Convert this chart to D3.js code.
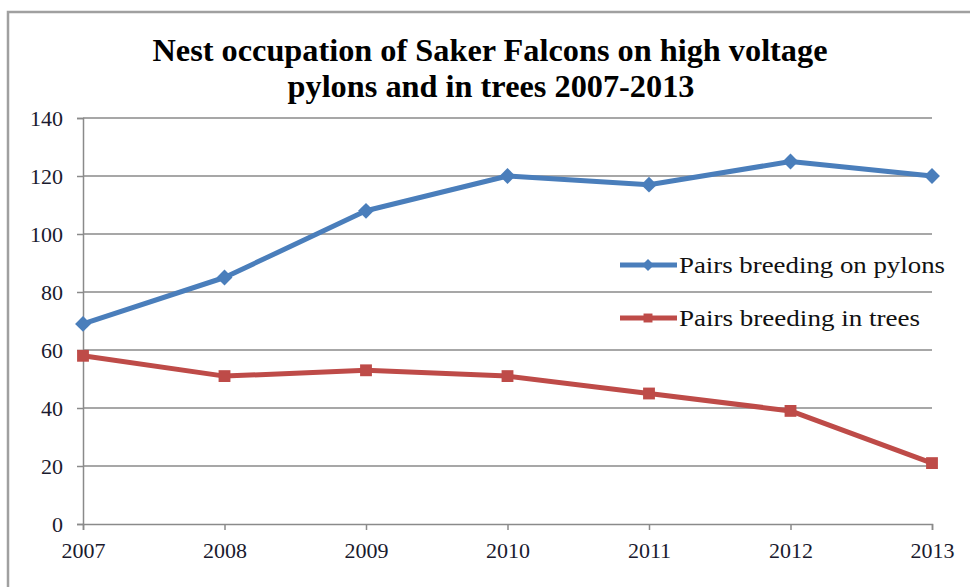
<!DOCTYPE html>
<html>
<head>
<meta charset="utf-8">
<script src="https://cdn.jsdelivr.net/npm/d3@7"></script>
<style>
  body { margin: 0; background: #fff; }
  text { font-family: "Liberation Serif", "Times New Roman", serif; }
</style>
</head>
<body>
<svg id="chart" width="970" height="587"></svg>
<script>
var years = [2007, 2008, 2009, 2010, 2011, 2012, 2013];
var pylons = [69, 85, 108, 120, 117, 125, 120];
var trees = [58, 51, 53, 51, 45, 39, 21];
var yTicks = [0, 20, 40, 60, 80, 100, 120, 140];
var seriesNames = ["Pairs breeding on pylons", "Pairs breeding in trees"];
var titleLines = ["Nest occupation  of Saker Falcons on high  voltage", "pylons and  in  trees 2007-2013"];

var svg = d3.select('#chart');

// outer frame
svg.append('rect')
	.attr('x', 8).attr('y', 12)
	.attr('width', 980).attr('height', 600)
	.attr('fill', 'none')
	.attr('stroke', '#a0a0a0')
	.attr('stroke-width', 2.5);

var plotLeft = 83, plotRight = 932, plotTop = 118, plotBottom = 524;

var x = d3.scalePoint().domain(years).range([plotLeft, plotRight]);
var y = d3.scaleLinear().domain([0, 140]).range([plotBottom, plotTop]);

// title
svg.append('text')
	.attr('x', 490).attr('y', 61)
	.attr('text-anchor', 'middle')
	.attr('font-size', 31).attr('font-weight', 'bold')
	.attr('textLength', 675).attr('lengthAdjust', 'spacingAndGlyphs')
	.text(titleLines[0]);
svg.append('text')
	.attr('x', 491).attr('y', 97)
	.attr('text-anchor', 'middle')
	.attr('font-size', 31).attr('font-weight', 'bold')
	.attr('textLength', 407).attr('lengthAdjust', 'spacingAndGlyphs')
	.text(titleLines[1]);

// gridlines
svg.append('g').selectAll('line')
	.data(yTicks.filter(function(d){ return d > 0; }))
	.enter().append('line')
	.attr('x1', plotLeft).attr('x2', plotRight)
	.attr('y1', function(d){ return y(d); })
	.attr('y2', function(d){ return y(d); })
	.attr('stroke', '#8a8a8a').attr('stroke-width', 1.5);

// y axis
var yAxis = svg.append('g')
	.attr('transform', 'translate(' + plotLeft + ',0)')
	.call(d3.axisLeft(y).tickValues(yTicks).tickSize(6).tickPadding(14));
// x axis
var xAxis = svg.append('g')
	.attr('transform', 'translate(0,' + plotBottom + ')')
	.call(d3.axisBottom(x).tickSize(6).tickPadding(10).tickFormat(d3.format('d')));

[yAxis, xAxis].forEach(function(ax)
{
	ax.select('.domain').attr('stroke', '#8a8a8a').attr('stroke-width', 1.5);
	ax.selectAll('.tick line').attr('stroke', '#8a8a8a').attr('stroke-width', 1.5);
	ax.selectAll('.tick text')
		.attr('font-family', '"Liberation Serif", serif')
		.attr('font-size', 22)
		.attr('fill', '#1a1a2e');
});
yAxis.selectAll('.tick text').attr('dy', '0.35em');
xAxis.selectAll('.tick text').attr('dy', '0.8em');

var blue = '#4a7ebb', red = '#be4b48';

var line = d3.line()
	.x(function(d, i){ return x(years[i]); })
	.y(function(d){ return y(d); });

svg.append('path').datum(pylons)
	.attr('d', line).attr('fill', 'none')
	.attr('stroke', blue).attr('stroke-width', 5).attr('stroke-linejoin', 'round');
svg.append('path').datum(trees)
	.attr('d', line).attr('fill', 'none')
	.attr('stroke', red).attr('stroke-width', 5).attr('stroke-linejoin', 'round');

var diamond = d3.symbol().type(d3.symbolDiamond2).size(160);
var square = d3.symbol().type(d3.symbolSquare).size(140);

svg.append('g').selectAll('path')
	.data(pylons).enter().append('path')
	.attr('d', diamond)
	.attr('transform', function(d, i){ return 'translate(' + x(years[i]) + ',' + y(d) + ')'; })
	.attr('fill', blue);
svg.append('g').selectAll('path')
	.data(trees).enter().append('path')
	.attr('d', square)
	.attr('transform', function(d, i){ return 'translate(' + x(years[i]) + ',' + y(d) + ')'; })
	.attr('fill', red);

// legend
var legendColors = [blue, red];
var legendWidths = [266, 241];
var legendSymbols = [d3.symbol().type(d3.symbolDiamond2).size(90), d3.symbol().type(d3.symbolSquare).size(80)];
var legend = svg.append('g').selectAll('g')
	.data(seriesNames).enter().append('g')
	.attr('transform', function(d, i){ return 'translate(620,' + (265 + i * 53) + ')'; });
legend.append('line')
	.attr('x1', 0).attr('x2', 57)
	.attr('stroke', function(d, i){ return legendColors[i]; })
	.attr('stroke-width', 5);
legend.append('path')
	.attr('d', function(d, i){ return legendSymbols[i](); })
	.attr('transform', 'translate(28,0)')
	.attr('fill', function(d, i){ return legendColors[i]; });
legend.append('text')
	.attr('x', 59).attr('y', 8)
	.attr('font-size', 24)
	.attr('fill', '#111')
	.attr('textLength', function(d, i){ return legendWidths[i]; })
	.attr('lengthAdjust', 'spacingAndGlyphs')
	.text(function(d){ return d; });
</script>
</body>
</html>
